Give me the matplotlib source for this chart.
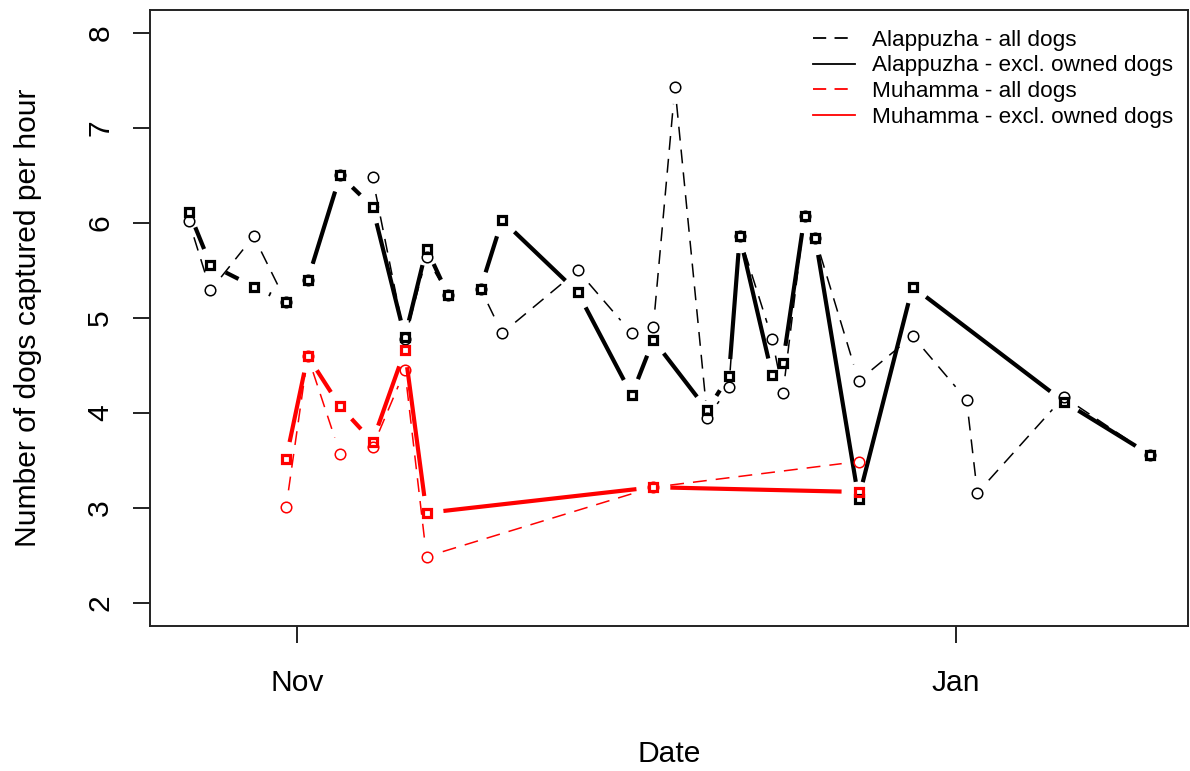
import numpy as np
import pandas as pd
import matplotlib
matplotlib.use('Agg')
import matplotlib.pyplot as plt
import matplotlib.dates as mdates
from matplotlib.lines import Line2D

plt.rcParams['font.family'] = ['Liberation Sans', 'DejaVu Sans']
plt.rcParams['lines.scale_dashes'] = False

# Alappuzha - all dogs (open circles, dashed)
alp_all_dates = ['2018-10-22', '2018-10-24', '2018-10-28', '2018-10-31', '2018-11-02',
                 '2018-11-05', '2018-11-08', '2018-11-11', '2018-11-13', '2018-11-15',
                 '2018-11-18', '2018-11-20', '2018-11-27', '2018-12-02', '2018-12-04',
                 '2018-12-06', '2018-12-09', '2018-12-11', '2018-12-12', '2018-12-15',
                 '2018-12-16', '2018-12-18', '2018-12-19', '2018-12-23', '2018-12-28',
                 '2019-01-02', '2019-01-03', '2019-01-11', '2019-01-19']
alp_all = [6.02, 5.29, 5.86, 5.17, 5.40, 6.50, 6.48, 4.78, 5.64, 5.24,
           5.31, 4.84, 5.50, 4.84, 4.91, 7.43, 3.95, 4.27, 5.86, 4.78,
           4.21, 6.07, 5.84, 4.34, 4.81, 4.14, 3.16, 4.17, 3.56]

# Alappuzha - excl. owned dogs (squares, solid)
alp_excl_dates = ['2018-10-22', '2018-10-24', '2018-10-28', '2018-10-31', '2018-11-02',
                  '2018-11-05', '2018-11-08', '2018-11-11', '2018-11-13', '2018-11-15',
                  '2018-11-18', '2018-11-20', '2018-11-27', '2018-12-02', '2018-12-04',
                  '2018-12-09', '2018-12-11', '2018-12-12', '2018-12-15', '2018-12-16',
                  '2018-12-18', '2018-12-19', '2018-12-23', '2018-12-28', '2019-01-11',
                  '2019-01-19']
alp_excl = [6.12, 5.56, 5.33, 5.17, 5.40, 6.50, 6.17, 4.80, 5.73, 5.24,
            5.31, 6.03, 5.27, 4.19, 4.77, 4.03, 4.39, 5.86, 4.40, 4.53,
            6.07, 5.84, 3.10, 5.33, 4.12, 3.56]

# Muhamma
muh_dates = ['2018-10-31', '2018-11-02', '2018-11-05', '2018-11-08', '2018-11-11',
             '2018-11-13', '2018-12-04', '2018-12-23']
muh_all = [3.01, 4.60, 3.57, 3.64, 4.45, 2.49, 3.22, 3.49]
muh_excl = [3.52, 4.60, 4.07, 3.70, 4.66, 2.95, 3.22, 3.17]

legend_labels = ['Alappuzha - all dogs', 'Alappuzha - excl. owned dogs',
                 'Muhamma - all dogs', 'Muhamma - excl. owned dogs']


def to_num(ds):
    return mdates.date2num(pd.to_datetime(ds))


W, H = 1190, 771
fig = plt.figure(figsize=(W / 100, H / 100), dpi=100)
ax = fig.add_axes([150 / W, 145 / H, 1038 / W, 616 / H])
nov1, jan1 = to_num(['2018-11-01', '2019-01-01'])
ax.set_xlim(nov1 - 13.6, nov1 + 82.5)
ax.set_ylim(1.76, 8.24)

DASH = (0, (10, 6.5))
GAP = 17  # pixels left open round each point (R type="b")


def type_b(dates, vals, color, lw, ls, marker, ms, mew):
    xn = to_num(dates)
    pts = ax.transData.transform(np.column_stack([xn, vals]))
    inv = ax.transData.inverted()
    for p, q in zip(pts[:-1], pts[1:]):
        d = q - p
        L = np.hypot(d[0], d[1])
        if L <= 2 * GAP:
            continue
        u = d / L
        seg = inv.transform(np.vstack([p + GAP * u, q - GAP * u]))
        ax.plot(seg[:, 0], seg[:, 1], color=color, lw=lw, ls=ls,
                solid_capstyle='butt', dash_capstyle='butt')
    ax.plot(xn, vals, ls='none', marker=marker, ms=ms, mec=color,
            mfc='none', mew=mew)


type_b(alp_all_dates, alp_all, 'black', 1.1, DASH, 'o', 7.6, 1.1)
type_b(alp_excl_dates, alp_excl, 'black', 3.0, '-', 's', 5.8, 2.3)
type_b(muh_dates, muh_all, 'red', 1.1, DASH, 'o', 7.6, 1.1)
type_b(muh_dates, muh_excl, 'red', 3.0, '-', 's', 5.8, 2.3)

ax.set_xticks([nov1, jan1])
ax.set_xticklabels(['Nov', 'Jan'])
ax.set_yticks([2, 3, 4, 5, 6, 7, 8])
ax.tick_params(length=12.2, width=1.4, labelsize=21.6, color='#222222')
ax.tick_params(axis='x', pad=19)
ax.tick_params(axis='y', pad=13.5, labelrotation=90)
for lbl in ax.get_yticklabels():
    lbl.set_va('center')
for sp in ax.spines.values():
    sp.set_linewidth(1.4)
    sp.set_color('#222222')

ax.set_xlabel('Date', fontsize=21.6)
ax.xaxis.set_label_coords(0.5, -0.185)
ax.set_ylabel('Number of dogs captured per hour', fontsize=21.6)
ax.yaxis.set_label_coords(-0.104, 0.5)

handles = [Line2D([], [], color='black', ls=(0, (9.5, 6)), lw=1.3),
           Line2D([], [], color='black', ls='-', lw=1.3),
           Line2D([], [], color='red', ls=(0, (9.5, 6)), lw=1.3),
           Line2D([], [], color='red', ls='-', lw=1.3)]
ax.legend(handles, legend_labels, loc='upper left',
          bbox_to_anchor=(813 / W, (H - 30) / H), bbox_transform=fig.transFigure,
          frameon=False, fontsize=16.2, handlelength=1.87, handletextpad=0.75,
          labelspacing=0.2, borderpad=0, borderaxespad=0)

fig.savefig('out.png', dpi=100)
